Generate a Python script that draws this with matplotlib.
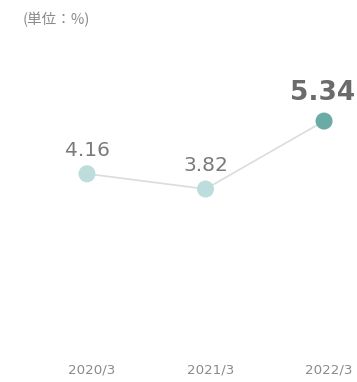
import matplotlib
matplotlib.use("Agg")
import matplotlib.pyplot as plt

# data
years = ["2020/3", "2021/3", "2022/3"]
values = [4.16, 3.82, 5.34]
labels = ["4.16", "3.82", "5.34"]

plt.rcParams['font.family'] = ['Noto Sans CJK JP', 'DejaVu Sans']

fig = plt.figure(figsize=(3.57, 3.82), dpi=100)
ax = fig.add_axes([0, 0, 1, 1])
ax.set_xlim(-0.734, 2.278)
ax.set_ylim(-0.50, 8.05)
ax.axis("off")

x = list(range(len(years)))
ax.plot(x, values, color="#d8dddd", lw=1.2, zorder=1)
dot_colors = ["#bddcdc", "#bddcdc", "#6aaba6"]
ax.scatter(x, values, s=150, c=dot_colors, edgecolors="none", zorder=2)

for i, (v, lab) in enumerate(zip(values, labels)):
    last = i == len(values) - 1
    ax.annotate(lab, (i, v), xytext=(-1 if last else 0, 20 if last else 17),
                textcoords="offset points", ha="center", va="center",
                family="DejaVu Sans",
                fontsize=19 if last else 14.5, fontweight="bold" if last else "normal",
                color="#6b6b6b" if last else "#7a7a7a")

for i, yr in enumerate(years):
    ax.text(i + 0.04, -0.50 + (382 - 370) / 44.7, yr, ha="center", va="center",
            fontsize=9.6, color="#8a8a8a", family="DejaVu Sans")

fig.text(23 / 357, 1 - 20 / 382, "(単位：%)", ha="left", va="center",
         fontsize=10.5, color="#8a8a8a")

fig.savefig("out.png", dpi=100)
